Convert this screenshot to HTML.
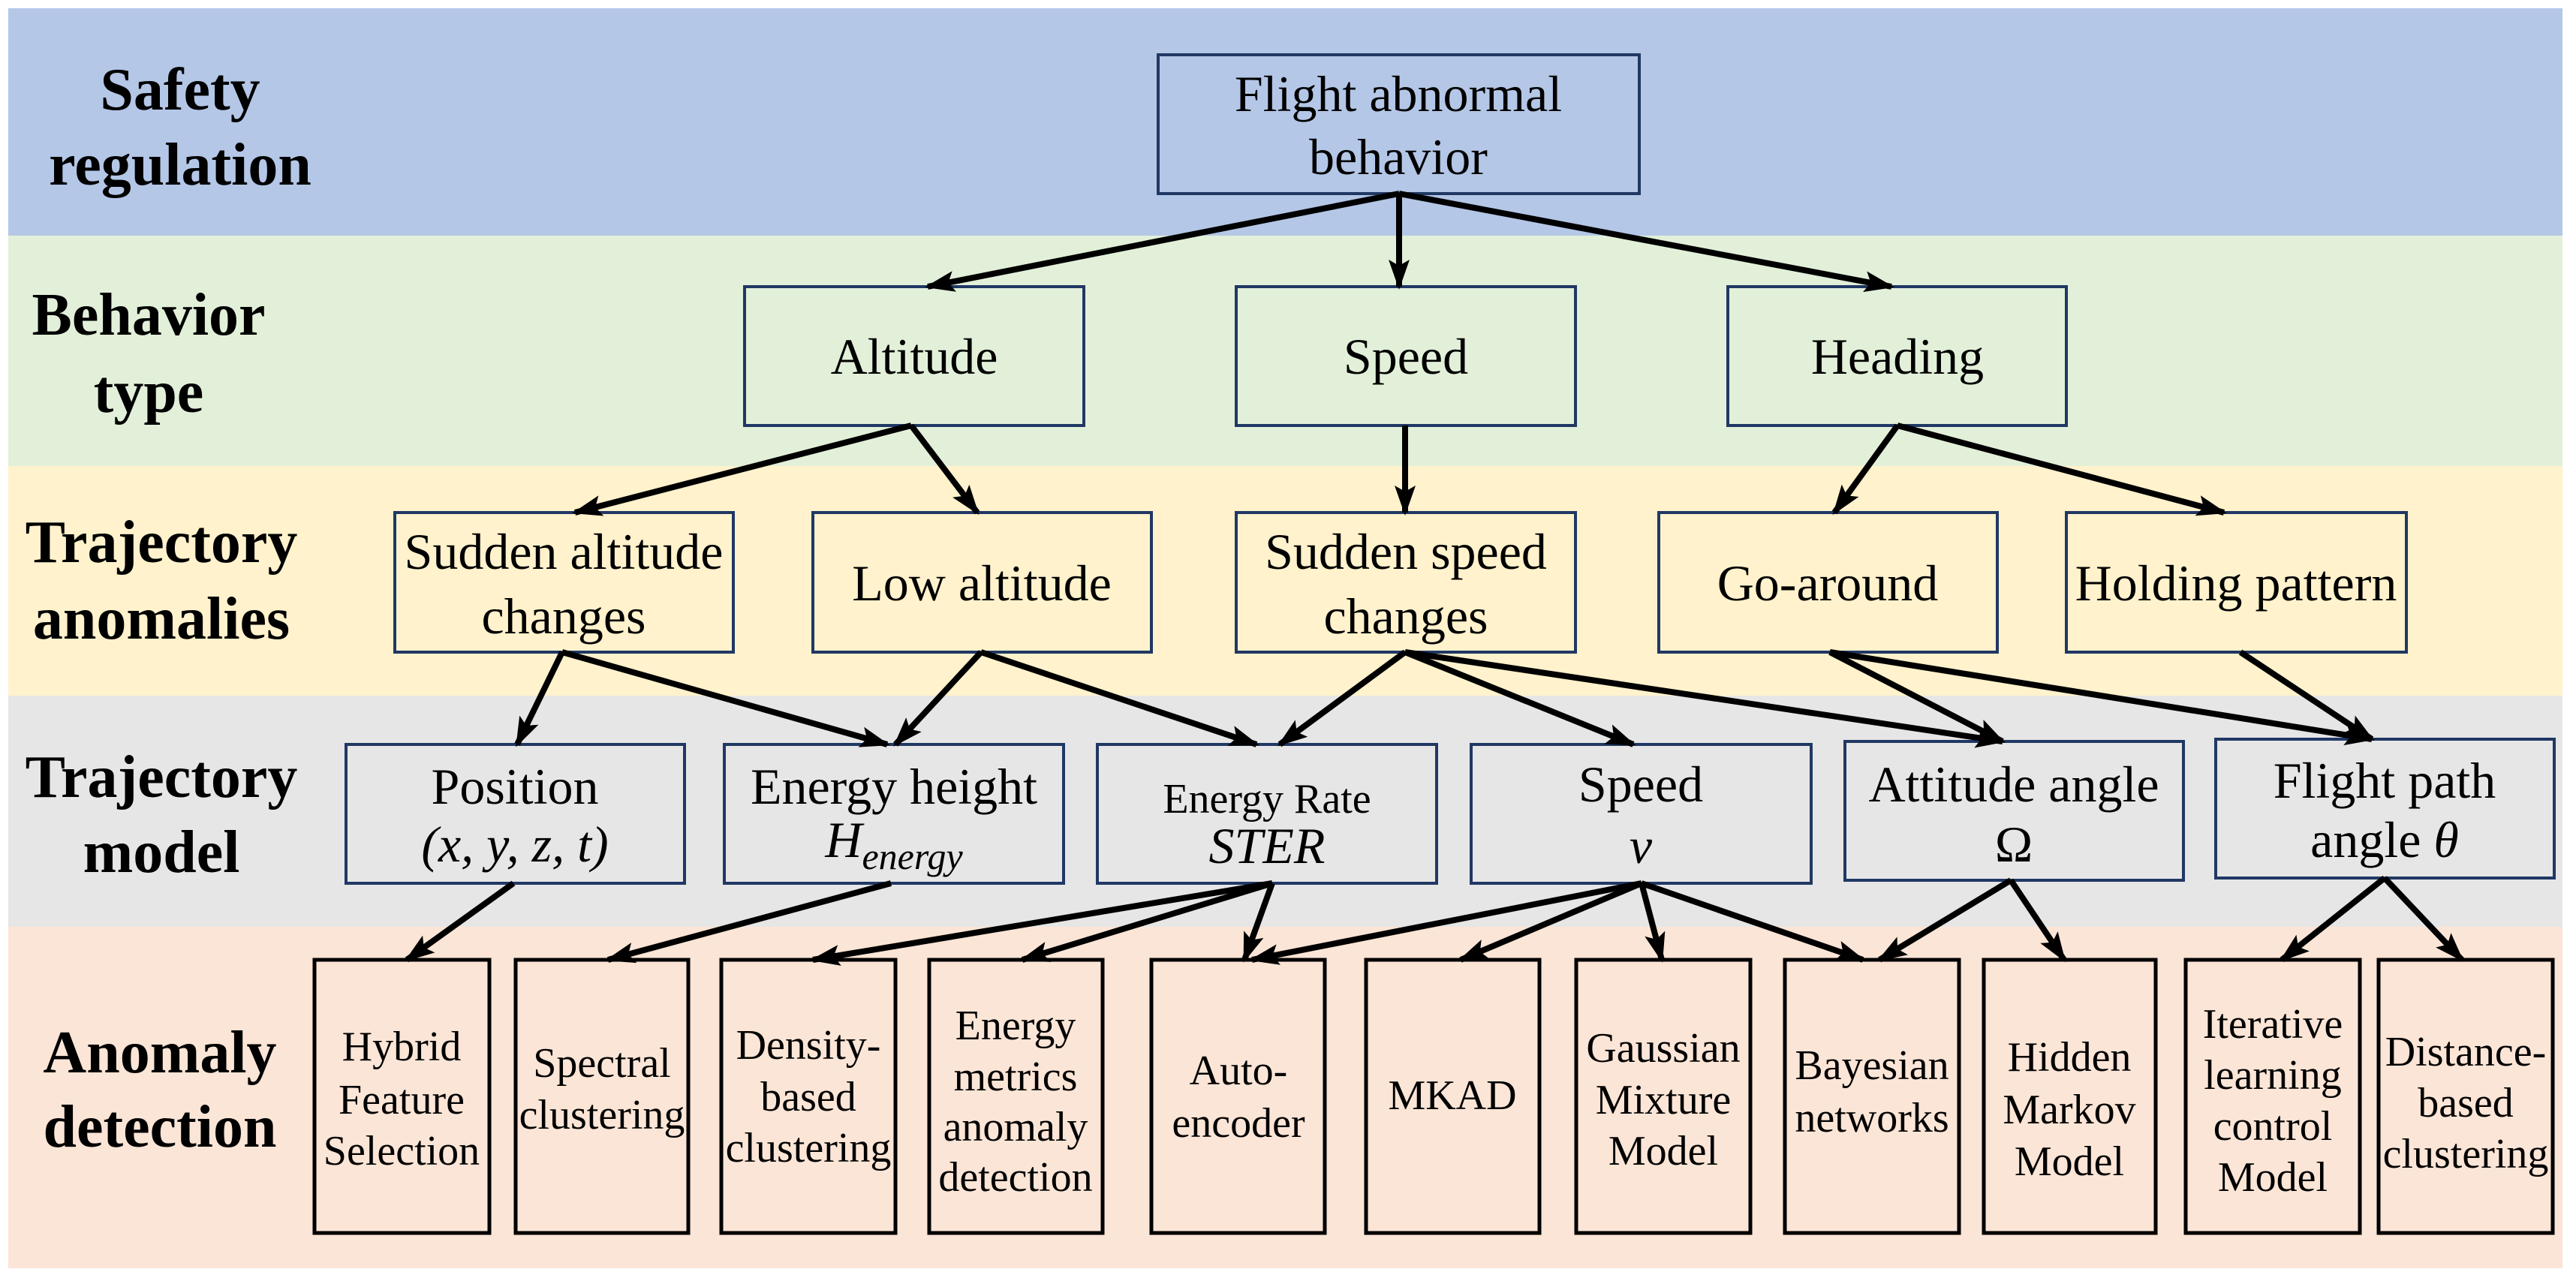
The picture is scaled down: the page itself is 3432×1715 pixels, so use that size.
<!DOCTYPE html>
<html><head><meta charset="utf-8"><style>
html,body{margin:0;padding:0;background:#fff;}
svg{display:block;}
svg, svg text{font-family:"Liberation Serif","Times New Roman","DejaVu Serif",serif;}
text{fill:#000;}
.lab{font-weight:bold;font-size:80px;text-anchor:middle;}
.n{font-size:68px;text-anchor:middle;}
.s{font-size:56px;text-anchor:middle;}
.i{font-style:italic;}
.b{fill:none;stroke:#203864;stroke-width:4;}
.k{fill:none;stroke:#000;stroke-width:5;}
.c{stroke:#000;stroke-width:8;fill:none;marker-end:url(#a);}
</style></head><body>
<svg width="3432" height="1715" viewBox="0 0 3432 1715" xmlns="http://www.w3.org/2000/svg" font-family="Liberation Serif, Times New Roman, serif">
<defs><marker id="a" markerUnits="userSpaceOnUse" markerWidth="40" markerHeight="40" viewBox="0 0 40 40" refX="36" refY="20" orient="auto"><path d="M0,6 L40,20 L0,34 L8,20 Z" fill="#000"/></marker></defs>
<rect x="11" y="11" width="3403" height="303" fill="#b4c7e7"/>
<rect x="11" y="314" width="3403" height="307" fill="#e2f0d9"/>
<rect x="11" y="621" width="3403" height="306" fill="#fff2cc"/>
<rect x="11" y="927" width="3403" height="308" fill="#e7e6e6"/>
<rect x="11" y="1235" width="3403" height="455" fill="#fbe5d6"/>

<g font-family="Liberation Serif, Times New Roman, serif">
<text class="lab" x="240" y="146">Safety</text><text class="lab" x="240" y="246">regulation</text>
<text class="lab" x="198" y="446">Behavior</text><text class="lab" x="198" y="549">type</text>
<text class="lab" x="215" y="749">Trajectory</text><text class="lab" x="215" y="851">anomalies</text>
<text class="lab" x="215" y="1062">Trajectory</text><text class="lab" x="215" y="1162">model</text>
<text class="lab" x="213" y="1429">Anomaly</text><text class="lab" x="213" y="1528">detection</text>

<rect class="b" x="1543" y="73" width="641" height="185"/>
<text class="n" x="1863" y="148">Flight abnormal</text><text class="n" x="1863" y="232">behavior</text>

<rect class="b" x="992" y="382" width="452" height="185"/><text class="n" x="1218" y="498">Altitude</text>
<rect class="b" x="1647" y="382" width="452" height="185"/><text class="n" x="1873" y="498">Speed</text>
<rect class="b" x="2302" y="382" width="451" height="185"/><text class="n" x="2528" y="498">Heading</text>

<rect class="b" x="526" y="683" width="451" height="186"/><text class="n" x="751" y="758">Sudden altitude</text><text class="n" x="751" y="844">changes</text>
<rect class="b" x="1083" y="683" width="451" height="186"/><text class="n" x="1308" y="800">Low altitude</text>
<rect class="b" x="1647" y="683" width="452" height="186"/><text class="n" x="1873" y="758">Sudden speed</text><text class="n" x="1873" y="844">changes</text>
<rect class="b" x="2210" y="683" width="451" height="186"/><text class="n" x="2435" y="800">Go-around</text>
<rect class="b" x="2753" y="683" width="453" height="186"/><text class="n" x="2979" y="800">Holding pattern</text>

<rect class="b" x="461" y="992" width="451" height="185"/><text class="n" x="686" y="1071">Position</text><text class="n i" x="686" y="1148">(x, y, z, t)</text>
<rect class="b" x="965" y="992" width="452" height="185"/><text class="n" x="1191" y="1071">Energy height</text><text class="n i" x="1191" y="1142">H<tspan font-size="50" dy="16">energy</tspan></text>
<rect class="b" x="1462" y="992" width="452" height="185"/><text class="s" x="1688" y="1083" font-size="60">Energy Rate</text><text class="n i" x="1688" y="1150">STER</text>
<rect class="b" x="1960" y="992" width="453" height="185"/><text class="n" x="2186" y="1068">Speed</text><text class="n i" x="2186" y="1150">v</text>
<rect class="b" x="2458" y="988" width="451" height="185"/><text class="n" x="2683" y="1068">Attitude angle</text><text class="n" x="2683" y="1148">Ω</text>
<rect class="b" x="2952" y="985" width="451" height="185"/><text class="n" x="3177" y="1063">Flight path</text><text class="n" x="3177" y="1142">angle <tspan class="i">θ</tspan></text>

<rect class="k" x="419" y="1279" width="233" height="364"/><text class="s" x="535" y="1413">Hybrid</text><text class="s" x="535" y="1484">Feature</text><text class="s" x="535" y="1552">Selection</text>
<rect class="k" x="687" y="1279" width="230" height="364"/><text class="s" x="802" y="1435">Spectral</text><text class="s" x="802" y="1504">clustering</text>
<rect class="k" x="961" y="1279" width="232" height="364"/><text class="s" x="1077" y="1411">Density-</text><text class="s" x="1077" y="1480">based</text><text class="s" x="1077" y="1548">clustering</text>
<rect class="k" x="1238" y="1279" width="231" height="364"/><text class="s" x="1353" y="1385">Energy</text><text class="s" x="1353" y="1453">metrics</text><text class="s" x="1353" y="1520">anomaly</text><text class="s" x="1353" y="1587">detection</text>
<rect class="k" x="1534" y="1279" width="231" height="364"/><text class="s" x="1650" y="1445">Auto-</text><text class="s" x="1650" y="1515">encoder</text>
<rect class="k" x="1820" y="1279" width="231" height="364"/><text class="s" x="1935" y="1478">MKAD</text>
<rect class="k" x="2100" y="1279" width="232" height="364"/><text class="s" x="2216" y="1415">Gaussian</text><text class="s" x="2216" y="1484">Mixture</text><text class="s" x="2216" y="1552">Model</text>
<rect class="k" x="2378" y="1279" width="232" height="364"/><text class="s" x="2494" y="1438">Bayesian</text><text class="s" x="2494" y="1508">networks</text>
<rect class="k" x="2643" y="1279" width="229" height="364"/><text class="s" x="2757" y="1427">Hidden</text><text class="s" x="2757" y="1497">Markov</text><text class="s" x="2757" y="1566">Model</text>
<rect class="k" x="2912" y="1279" width="232" height="364"/><text class="s" x="3028" y="1383">Iterative</text><text class="s" x="3028" y="1451">learning</text><text class="s" x="3028" y="1519">control</text><text class="s" x="3028" y="1587">Model</text>
<rect class="k" x="3169" y="1279" width="232" height="364"/><text class="s" x="3285" y="1420">Distance-</text><text class="s" x="3285" y="1488">based</text><text class="s" x="3285" y="1556">clustering</text>
</g>

<line class="c" x1="1864" y1="258" x2="1236" y2="382"/>
<line class="c" x1="1864" y1="258" x2="1864" y2="382"/>
<line class="c" x1="1864" y1="258" x2="2520" y2="382"/>
<line class="c" x1="1214" y1="567" x2="766" y2="683"/>
<line class="c" x1="1214" y1="567" x2="1302" y2="683"/>
<line class="c" x1="1872" y1="567" x2="1872" y2="683"/>
<line class="c" x1="2528" y1="567" x2="2444" y2="683"/>
<line class="c" x1="2528" y1="567" x2="2963" y2="683"/>
<line class="c" x1="749" y1="869" x2="689" y2="992"/>
<line class="c" x1="749" y1="869" x2="1182" y2="992"/>
<line class="c" x1="1307" y1="869" x2="1193" y2="992"/>
<line class="c" x1="1307" y1="869" x2="1674" y2="992"/>
<line class="c" x1="1872" y1="869" x2="1705" y2="992"/>
<line class="c" x1="1872" y1="869" x2="2176" y2="992"/>
<line class="c" x1="1872" y1="869" x2="2668" y2="988"/>
<line class="c" x1="2438" y1="869" x2="2668" y2="988"/>
<line class="c" x1="2438" y1="869" x2="3160" y2="985"/>
<line class="c" x1="2985" y1="869" x2="3160" y2="985"/>
<line class="c" x1="684" y1="1177" x2="542" y2="1279"/>
<line class="c" x1="1187" y1="1177" x2="810" y2="1279"/>
<line class="c" x1="1695" y1="1177" x2="1083" y2="1279"/>
<line class="c" x1="1695" y1="1177" x2="1362" y2="1279"/>
<line class="c" x1="1695" y1="1177" x2="1658" y2="1279"/>
<line class="c" x1="2187" y1="1177" x2="1668" y2="1279"/>
<line class="c" x1="2187" y1="1177" x2="1946" y2="1279"/>
<line class="c" x1="2187" y1="1177" x2="2214" y2="1279"/>
<line class="c" x1="2187" y1="1177" x2="2482" y2="1279"/>
<line class="c" x1="2679" y1="1173" x2="2504" y2="1279"/>
<line class="c" x1="2679" y1="1173" x2="2750" y2="1279"/>
<line class="c" x1="3177" y1="1170" x2="3040" y2="1279"/>
<line class="c" x1="3177" y1="1170" x2="3280" y2="1279"/>
</svg>
</body></html>
